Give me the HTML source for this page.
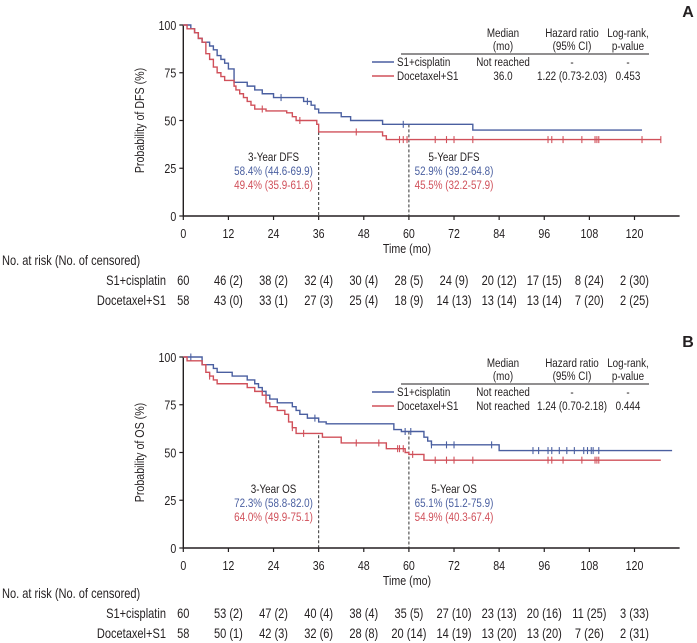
<!DOCTYPE html>
<html><head><meta charset="utf-8"><style>
body{margin:0;background:#fff;}
svg{display:block;font-family:"Liberation Sans",sans-serif;}
text{fill:#231f20;}
</style></head><body>
<svg id="c" width="697" height="643" viewBox="0 0 697 643" xmlns="http://www.w3.org/2000/svg"></svg>
<script>
const xTicks=[0,12,24,36,48,60,72,84,96,108,120];
const yTicks=[0,25,50,75,100];
// Panel A (DFS)
const aBlueT=[0,2,3,4,5,7,8,9,10,11,12,13.5,17,19,21,24,32,34,35,36,42,44.5,53,77,122];
const aBlueS=[100,98,96,93,91,89,87,84,82,80,77,70,68,66,64,62,60,58,56,54,52,50,48,45,45];
const aBlueC=[26,33,58.5];
const aRedT=[0,1,3,4,5,6,7,8,9,10,11,13.5,14,15,16,17,18,19,22,27.5,29,30,35.5,36,53,54,127];
const aRedS=[100,98,96,93,91,85,82,78,75,73,71,68,66,64,62,60,58,56,55,54,52,50,48,44,42,40,40];
const aRedC=[21,31,46,57.5,58.5,59.5,67,70,72,77,97,98,101,106,109.5,110,110.5,122,127];
// Panel B (OS)
const bBlueT=[0,5,8,9,13,17,19,20,21,22,23,25,29,30,31,33,36,38,56,58,64,65,66,84,130];
const bBlueS=[100,96,94,92,90,88,86,84,82,80,78,76,74,72,70,68,66,65,62,61,58,56,54,51,51];
const bBlueC=[2,35,59,60.5,66,70,72,82,93,94.5,97,98,100,102,104,106.5,107.5,108.5,109,110.5];
const bRedT=[0,1,5,6,7,8,9,17,19,21,22,23,25,27,28,29,30,37,42,54,59,60,64,127];
const bRedS=[100,98,96,92,90,88,86,84,82,80,76,74,72,70,66,63,60,58,55,52,50,49,46,46];
const bRedC=[7,29,32,46,52,57,57.5,58.5,61,67,70,72,77,97,98,101,106,109.5,110,110.5];
const riskA1=["60","46 (2)","38 (2)","32 (4)","30 (4)","28 (5)","24 (9)","20 (12)","17 (15)","8 (24)","2 (30)"];
const riskA2=["58","43 (0)","33 (1)","27 (3)","25 (4)","18 (9)","14 (13)","13 (14)","13 (14)","7 (20)","2 (25)"];
const riskB1=["60","53 (2)","47 (2)","40 (4)","38 (4)","35 (5)","27 (10)","23 (13)","20 (16)","11 (25)","3 (33)"];
const riskB2=["58","50 (1)","42 (3)","32 (6)","28 (8)","20 (14)","14 (19)","13 (20)","13 (20)","7 (26)","2 (31)"];

const svg=document.getElementById('c');
const NS='http://www.w3.org/2000/svg';
const BLUE='#4a5fa0',RED='#d0505a';
const SX=0.82;
function el(tag,attrs,parent){const e=document.createElementNS(NS,tag);for(const k in attrs)e.setAttribute(k,attrs[k]);(parent||svg).appendChild(e);return e;}
function txt(x,y,s,opt,parent){const t=el('text',Object.assign({x:x/SX,y:y,'font-size':12,transform:`scale(${SX},1)`},opt||{}),parent);t.textContent=s;return t;}
const x=t=>183.3+t*3.76;

function panel(cfg){
  const g=el('g',{});
  
  
  const y=v=>cfg.y0-(v)*(cfg.y0-cfg.y100)/100;
  const ax=el('path',{d:`M${x(0)},${y(100)}V${y(0)}H${x(132)}`,stroke:'#231f20',fill:'none','stroke-width':1.4},g);
  
  
  xTicks.forEach(v=>{el('line',{x1:x(v),x2:x(v),y1:y(0),y2:y(0)+4,stroke:'#231f20','stroke-width':1.2},g);
    const t=txt(x(v),y(0)+22,String(v),{'text-anchor':'middle','font-size':13},g);
    });
  yTicks.forEach(v=>{el('line',{x1:x(0)-4,x2:x(0),y1:y(v),y2:y(v),stroke:'#231f20','stroke-width':1.2},g);
    const t=txt(x(0)-7,y(v)+5,String(v),{'text-anchor':'end','font-size':13},g);
    });
  const xt=txt(407,y(0)+37,'Time (mo)',{'text-anchor':'middle','font-size':13},g);
  
  const yt=el('text',{x:0,y:0,'text-anchor':'middle','font-size':13,transform:`translate(144,${(y(0)+y(100))/2}) rotate(-90) scale(${SX},1)`},g);
  yt.textContent=cfg.ytitle;
  
  [36,60].forEach(v=>el('line',{x1:x(v),x2:x(v),y1:y(cfg.dash[v]),y2:y(0),stroke:'#333','stroke-dasharray':'3,2'},g));
  function curve(T,S,C,col,name){
    let d=`M${x(T[0])},${y(S[0])}`;
    for(let i=1;i<T.length;i++){d+=`H${x(T[i])}V${y(S[i])}`;}
    const p=el('path',{d:d,stroke:col,fill:'none','stroke-width':1.4},g);
    
    C.forEach(c=>{let s=S[0];for(let i=0;i<T.length;i++){if(T[i]<=c)s=S[i];}
      const m=el('line',{x1:x(c),x2:x(c),y1:y(s)-3.5,y2:y(s)+3.5,stroke:col,'stroke-width':1.1},g);
      });
  }
  curve(cfg.bT,cfg.bS,cfg.bC,BLUE,'s1-cisplatin');
  curve(cfg.rT,cfg.rS,cfg.rC,RED,'docetaxel-s1');
  const ay=y(0)-55;
  [[x(24),cfg.ann[0]],[x(72),cfg.ann[1]]].forEach(([cx,a])=>{
    txt(cx,ay,a[0],{'text-anchor':'middle','font-size':12},g);
    txt(cx,ay+14,a[1],{'text-anchor':'middle','font-size':12,style:'fill:'+BLUE},g);
    txt(cx,ay+28,a[2],{'text-anchor':'middle','font-size':12,style:'fill:'+RED},g);
  });
  const ly=cfg.ly;
  const lg=el('g',{},g);
  
  const fs=12;
  txt(503,ly,'Median',{'text-anchor':'middle','font-size':fs},lg);
  txt(503,ly+13,'(mo)',{'text-anchor':'middle','font-size':fs},lg);
  txt(572,ly,'Hazard ratio',{'text-anchor':'middle','font-size':fs},lg);
  txt(572,ly+13,'(95% CI)',{'text-anchor':'middle','font-size':fs},lg);
  txt(628,ly,'Log-rank,',{'text-anchor':'middle','font-size':fs},lg);
  txt(628,ly+13,'p-value',{'text-anchor':'middle','font-size':fs},lg);
  el('line',{x1:401,x2:649,y1:ly+17,y2:ly+17,stroke:'#231f20','stroke-width':0.9},lg);
  el('line',{x1:372,x2:394,y1:ly+25,y2:ly+25,stroke:BLUE,'stroke-width':1.5},lg);
  el('line',{x1:372,x2:394,y1:ly+39,y2:ly+39,stroke:RED,'stroke-width':1.5},lg);
  txt(397,ly+29,'S1+cisplatin',{'font-size':fs},lg);
  txt(397,ly+43,'Docetaxel+S1',{'font-size':fs},lg);
  txt(503,ly+29,'Not reached',{'text-anchor':'middle','font-size':fs},lg);
  txt(503,ly+43,cfg.med2,{'text-anchor':'middle','font-size':fs},lg);
  txt(572,ly+29,'-',{'text-anchor':'middle','font-size':fs},lg);
  txt(628,ly+29,'-',{'text-anchor':'middle','font-size':fs},lg);
  txt(572,ly+43,cfg.hr,{'text-anchor':'middle','font-size':fs},lg);
  txt(628,ly+43,cfg.p,{'text-anchor':'middle','font-size':fs},lg);
  const L=el('text',{x:688,y:cfg.ly-20,'text-anchor':'middle','font-size':16,'font-weight':'bold'},g);
  L.textContent=cfg.letter;
  
  const rt=el('g',{},g);
  
  const ry=cfg.ry;
  txt(2,ry,'No. at risk (No. of censored)',{'font-size':13.5},rt);
  txt(166,ry+20,'S1+cisplatin',{'text-anchor':'end','font-size':13.5},rt);
  txt(166,ry+40,'Docetaxel+S1',{'text-anchor':'end','font-size':13.5},rt);
  cfg.r1.forEach((s,i)=>txt(x(xTicks[i]),ry+20,s,{'text-anchor':'middle','font-size':13.5},rt));
  cfg.r2.forEach((s,i)=>txt(x(xTicks[i]),ry+40,s,{'text-anchor':'middle','font-size':13.5},rt));
}
panel({name:'panel-a-dfs',y0:216,y100:25,ytitle:'Probability of DFS (%)',dash:{36:44,60:48},
  bT:aBlueT,bS:aBlueS,bC:aBlueC,rT:aRedT,rS:aRedS,rC:aRedC,
  ann:[['3-Year DFS','58.4% (44.6-69.9)','49.4% (35.9-61.6)'],['5-Year DFS','52.9% (39.2-64.8)','45.5% (32.2-57.9)']],
  ly:37,med2:'36.0',hr:'1.22 (0.73-2.03)',p:'0.453',letter:'A',ry:265,r1:riskA1,r2:riskA2});
panel({name:'panel-b-os',y0:548,y100:357,ytitle:'Probability of OS (%)',dash:{36:59,60:61},
  bT:bBlueT,bS:bBlueS,bC:bBlueC,rT:bRedT,rS:bRedS,rC:bRedC,
  ann:[['3-Year OS','72.3% (58.8-82.0)','64.0% (49.9-75.1)'],['5-Year OS','65.1% (51.2-75.9)','54.9% (40.3-67.4)']],
  ly:367,med2:'Not reached',hr:'1.24 (0.70-2.18)',p:'0.444',letter:'B',ry:598,r1:riskB1,r2:riskB2});
</script>
</body></html>
